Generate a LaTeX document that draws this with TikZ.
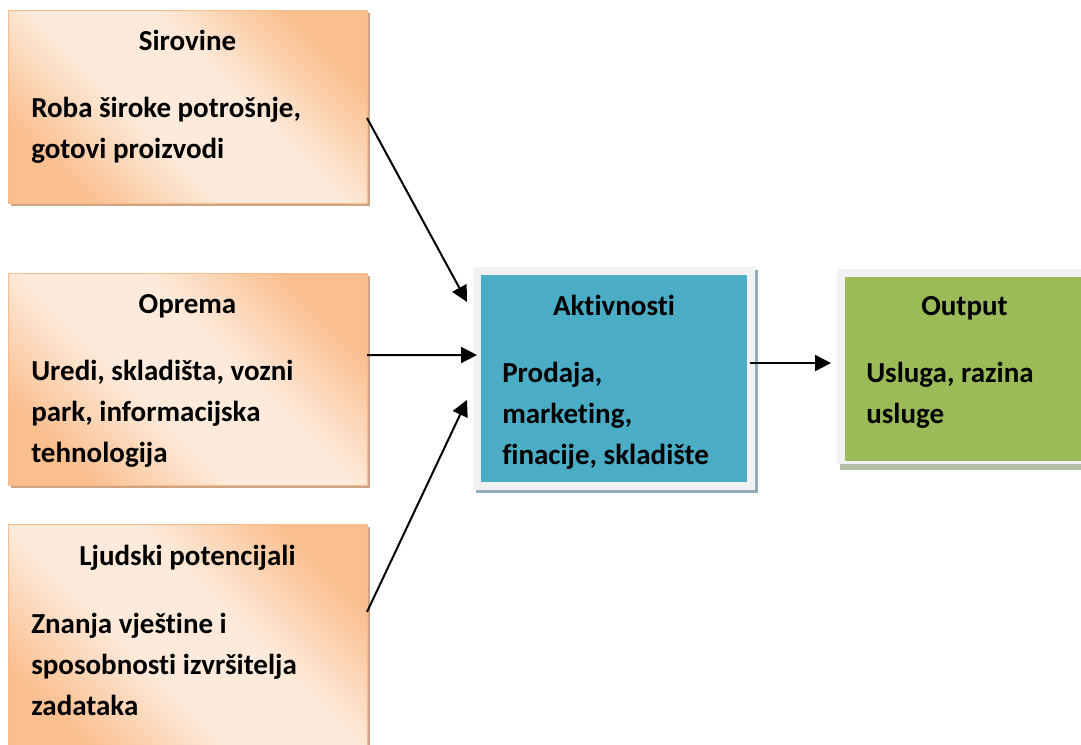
\documentclass[tikz,border=0pt]{standalone}
\usepackage{fontspec}
\setmainfont{Carlito}[Ligatures=CommonOff]
\usetikzlibrary{arrows.meta,shadows}
\definecolor{peach}{HTML}{FABF8F}
\definecolor{peachlight}{HTML}{FDEADA}
\definecolor{peachedge}{HTML}{F8BC8C}
\definecolor{tanshadow}{HTML}{CDA584}
\definecolor{aktblue}{HTML}{4BACC6}
\definecolor{outgreen}{HTML}{9BBB59}
\definecolor{framegray}{HTML}{F2F2F2}
\definecolor{blueshadow}{HTML}{93AEBB}
\definecolor{greenshadow}{HTML}{B4BCA3}
\pgfdeclareverticalshading{peachband}{100bp}{color(0bp)=(peach); color(25bp)=(peach);
  color(42bp)=(peachlight); color(58bp)=(peachlight); color(75bp)=(peach); color(100bp)=(peach)}
\tikzset{inbox/.style={anchor=north west,inner sep=0,outer sep=0,draw=peachedge,thin,
           shading=peachband,shading angle=-45,
           general shadow={fill=tanshadow,shadow xshift=2.25pt,shadow yshift=-2.25pt},
           minimum width=269.25pt},
         framed/.style 2 args={anchor=north west,inner sep=0,outer sep=0,fill=framegray,
           path picture={\fill[#1]([shift={(6pt,-6pt)}]path picture bounding box.north west)
             rectangle([shift={(-6pt,#2)}]path picture bounding box.south east);}},
         titletext/.style={anchor=base,inner sep=0,font=\fontsize{21.75}{30.75}\selectfont\bfseries},
         bodytext/.style={anchor=base west,inner sep=0,align=left,font=\fontsize{21.75}{30.75}\selectfont\bfseries},
         arrow/.style={line width=1.5pt,-{Triangle[length=12pt,width=12pt]}}
}
\begin{document}
\begin{tikzpicture}[x=0.75pt,y=-0.75pt]
  \clip(0,0)rectangle(1081,744);
  \fill[white](0,0)rectangle(1081,744);
  % input boxes
  \node[inbox,minimum height=144.75pt](sir)at(8,10){};
  \node[inbox,minimum height=159pt](opr)at(8,273){};
  \node[inbox,minimum height=172.5pt](ljud)at(8,524){};
  % activity and output
  \node[framed={aktblue}{6pt},minimum width=211.5pt,minimum height=167.25pt,
        general shadow={fill=blueshadow,shadow xshift=2.25pt,shadow yshift=-2.25pt}](akt)at(473,267){};
  \node[framed={outgreen}{2.25pt},minimum width=191.25pt,minimum height=146.25pt,
        general shadow={fill=greenshadow,shadow xshift=2.25pt,shadow yshift=-4.5pt}](out)at(837,269){};
  % texts (body nodes sit on the baseline of their last line)
  \node[titletext](sirT)at(187.5,50){Sirovine};
  \node[bodytext](sirB)at(31,158){Roba široke potrošnje,\\gotovi proizvodi};
  \node[titletext](oprT)at(187.5,313){Oprema};
  \node[bodytext](oprB)at(31,462){Uredi, skladišta, vozni\\park, informacijska\\tehnologija};
  \node[titletext](ljudT)at(187.5,565){Ljudski potencijali};
  \node[bodytext](ljudB)at(31,715){Znanja vještine i\\sposobnosti izvršitelja\\zadataka};
  \node[titletext](aktT)at(614,315){Aktivnosti};
  \node[bodytext](aktB)at(502,464){Prodaja,\\marketing,\\finacije, skladište};
  \node[titletext](outT)at(964.5,315){Output};
  \node[bodytext](outB)at(866,423){Usluga, razina\\usluge};
  % connectors
  \draw[arrow]([yshift=-8.6pt]sir.east)--([xshift=-4.5pt,yshift=57.4pt]akt.west);
  \draw[arrow]([yshift=18pt]opr.east)--([xshift=3pt,yshift=17.6pt]akt.west);
  \draw[arrow]([yshift=20.25pt]ljud.east)--([xshift=-4.5pt,yshift=-16.1pt]akt.west);
  \draw[arrow]([xshift=-3.75pt,yshift=11.6pt]akt.east)--([xshift=-4.5pt,yshift=2.6pt]out.west);
\end{tikzpicture}
\end{document}
